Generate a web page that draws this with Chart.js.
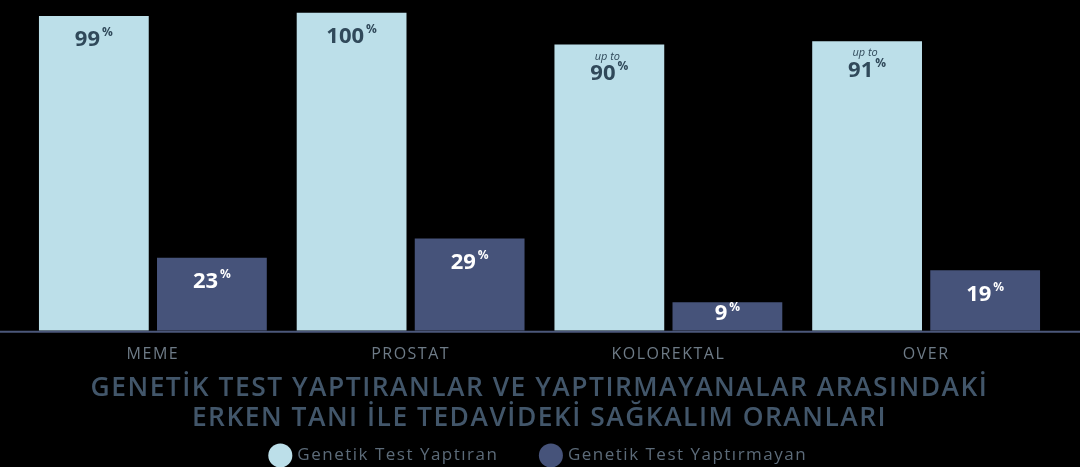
<!DOCTYPE html>
<html lang="tr">
<head>
<meta charset="UTF-8">
<title>Sağkalım Oranları</title>
<script src="https://cdn.jsdelivr.net/npm/chart.js@4.4.0/dist/chart.umd.min.js"></script>
<style>
  html, body { margin: 0; padding: 0; background: #000; }
  #wrap { width: 1080px; height: 467px; }
</style>
</head>
<body>
<div id="wrap"><canvas id="chart"></canvas></div>
<script>
const categories = ['MEME', 'PROSTAT', 'KOLOREKTAL', 'OVER'];
const tested = [99, 100, 90, 91];
const untested = [23, 29, 9, 19];
const upTo = [false, false, true, true];
const seriesNames = ['Genetik Test Yaptıran', 'Genetik Test Yaptırmayan'];
const titleLines = [
    'GENETİK TEST YAPTIRANLAR VE YAPTIRMAYANALAR ARASINDAKİ',
    'ERKEN TANI İLE TEDAVİDEKİ SAĞKALIM ORANLARI'
];

const barColors = ['#bcdfe9', '#46537a'];
const labelColors = ['#30495a', '#ffffff'];
const FONT = '"Open Sans", "DejaVu Sans", sans-serif';

// canvas letter spacing gets reset on resize, so set it again before layout and draw
const spacing = {
    id: 'spacing',
    beforeLayout(chart) { chart.ctx.letterSpacing = '1.5px'; },
    beforeDraw(chart) { chart.ctx.letterSpacing = '1.5px'; }
};

// full width base line under the bars
const baseLine = {
    id: 'baseLine',
    afterDatasetsDraw(chart) {
        const ctx = chart.ctx;
        const y = chart.scales.y.getPixelForValue(0);
        ctx.save();
        ctx.strokeStyle = '#4b577a';
        ctx.lineWidth = 2;
        ctx.beginPath();
        ctx.moveTo(0, y + 1);
        ctx.lineTo(chart.width, y + 1);
        ctx.stroke();
        ctx.restore();
    }
};

// number + small % inside the top of each bar
const valueLabels = {
    id: 'valueLabels',
    afterDatasetsDraw(chart) {
        const ctx = chart.ctx;
        ctx.save();
        ctx.letterSpacing = '0px';
        ctx.textBaseline = 'middle';
        chart.data.datasets.forEach((ds, di) => {
            chart.getDatasetMeta(di).data.forEach((bar, i) => {
                const h = bar.base - bar.y;
                const hasUpTo = di === 0 && upTo[i];
                const cy = bar.y + (hasUpTo ? 29 : Math.min(24, h * 0.42));
                const num = String(ds.data[i]);
                ctx.font = 'bold 22px ' + FONT;
                const nw = ctx.measureText(num).width;
                ctx.font = 'bold 12px ' + FONT;
                const pw = ctx.measureText('%').width;
                const x0 = bar.x - (nw + pw + 2) / 2;
                ctx.fillStyle = labelColors[di];
                ctx.textAlign = 'left';
                ctx.font = 'bold 22px ' + FONT;
                ctx.fillText(num, x0, cy);
                ctx.font = 'bold 12px ' + FONT;
                ctx.fillText('%', x0 + nw + 2, cy - 7);
                if (hasUpTo) {
                    ctx.font = 'italic 11px ' + FONT;
                    ctx.textAlign = 'center';
                    ctx.fillText('up to', bar.x - 2, cy - 17);
                }
            });
        });
        ctx.restore();
    }
};

new Chart(document.getElementById('chart'), {
    type: 'bar',
    data: {
        labels: categories,
        datasets: [
            { label: seriesNames[0], data: tested, backgroundColor: barColors[0] },
            { label: seriesNames[1], data: untested, backgroundColor: barColors[1] }
        ]
    },
    options: {
        responsive: true,
        maintainAspectRatio: false,
        animation: false,
        datasets: {
            bar: { barPercentage: 0.93, categoryPercentage: 0.916 }
        },
        layout: { padding: { left: 24, right: 25, top: 0, bottom: -7 } },
        scales: {
            x: {
                grid: { display: false },
                border: { display: false },
                ticks: { color: '#6e7b87', font: { family: FONT, size: 16 }, padding: 6 }
            },
            y: { display: false, min: 0, max: 104 }
        },
        plugins: {
            title: {
                display: true,
                position: 'bottom',
                weight: 500,
                text: titleLines,
                color: '#42566a',
                font: { family: FONT, size: 26.4, weight: 600, lineHeight: '30px' },
                padding: { top: 3, bottom: -30 }
            },
            legend: {
                position: 'bottom',
                labels: {
                    color: '#5c6b79',
                    font: { family: FONT, size: 17 },
                    usePointStyle: true,
                    pointStyle: 'circle',
                    boxWidth: 17,
                    boxHeight: 17,
                    padding: 44
                }
            },
            tooltip: { enabled: false }
        }
    },
    plugins: [spacing, baseLine, valueLabels]
});
</script>
</body>
</html>
